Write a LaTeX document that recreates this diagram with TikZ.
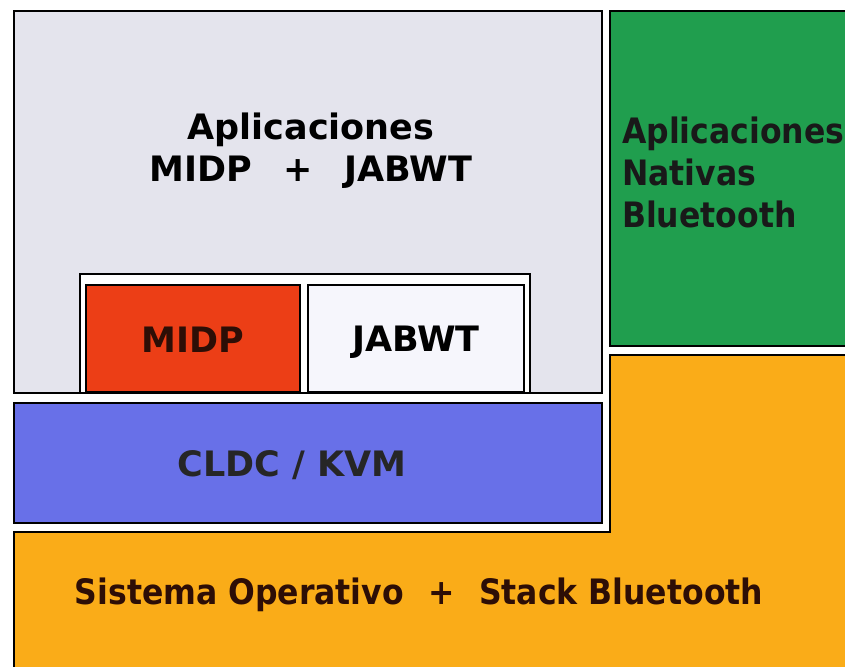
\documentclass[tikz,border=0pt]{standalone}
\usepackage{fontspec}
\setmainfont{DejaVu Sans}
\newfontfamily\condfont{DejaVu Sans Condensed}
\usetikzlibrary{positioning}
\definecolor{capagris}{RGB}{228,228,237}
\definecolor{capaverde}{RGB}{32,158,78}
\definecolor{capanaranja}{RGB}{250,172,24}
\definecolor{capaazul}{RGB}{104,112,232}
\definecolor{caparoja}{RGB}{236,62,22}
\definecolor{capablanca}{RGB}{246,246,252}
\definecolor{tintaoscura}{RGB}{45,14,6}

\begin{document}
\begin{tikzpicture}[
  x=1pt, y=-1pt,
  capa/.style={draw=black, line width=1.8pt, inner sep=0pt, outer sep=0pt, anchor=north west},
  rotulo/.style={font=\bfseries\fontsize{35}{42}\selectfont, align=center, inner sep=0pt}
]
\useasboundingbox (0,0) rectangle (845,666);
\clip (0,0) rectangle (845,666);
\fill[white] (0,0) rectangle (845,666);

% capa de aplicaciones
\node[capa, fill=capagris, minimum width=588pt, minimum height=382pt] (apps) at (14,11) {};
\node[capa, fill=white, minimum width=450pt, minimum height=119pt] (marco) at (80,274) {};
\node[capa, fill=caparoja, minimum width=214pt, minimum height=107pt] (midp) at (86,285) {};
\node[capa, fill=capablanca, minimum width=216pt, minimum height=107pt] (jabwt) at (308,285) {};
\node[capa, fill=capaazul, minimum width=588pt, minimum height=120pt] (cldc) at (14,403) {};
\node[capa, fill=capaverde, minimum width=260pt, minimum height=335pt] (nativas) at (610,11) {};

% sistema operativo (forma de L)
\draw[draw=black, line width=1.8pt, fill=capanaranja]
  (14,532) -- (610,532) -- (610,355) -- (870,355) -- (870,690) -- (14,690) -- cycle;
\coordinate (so) at (419,595);

% textos
\node[rotulo] (tapps) at (311,151) {Aplicaciones\\MIDP\hspace{0.9em}+\hspace{0.9em}JABWT};
\node[rotulo, text=tintaoscura] at ([yshift=-1pt]midp.center) {MIDP};
\node[rotulo] at ([yshift=-4pt]jabwt.center) {JABWT};
\node[rotulo, text=black!85] at (292,465) {CLDC / KVM};
\node[rotulo, font=\condfont\bfseries\fontsize{35}{42}\selectfont, align=left, anchor=west, text=black!90] (tnativas) at (622,172) {Aplicaciones\\Nativas\\Bluetooth};
\node[rotulo, font=\condfont\bfseries\fontsize{35}{42}\selectfont, text=tintaoscura] (tso) at (so) {Sistema Operativo\hspace{0.7em}+\hspace{0.7em}Stack Bluetooth};
\end{tikzpicture}
\end{document}
